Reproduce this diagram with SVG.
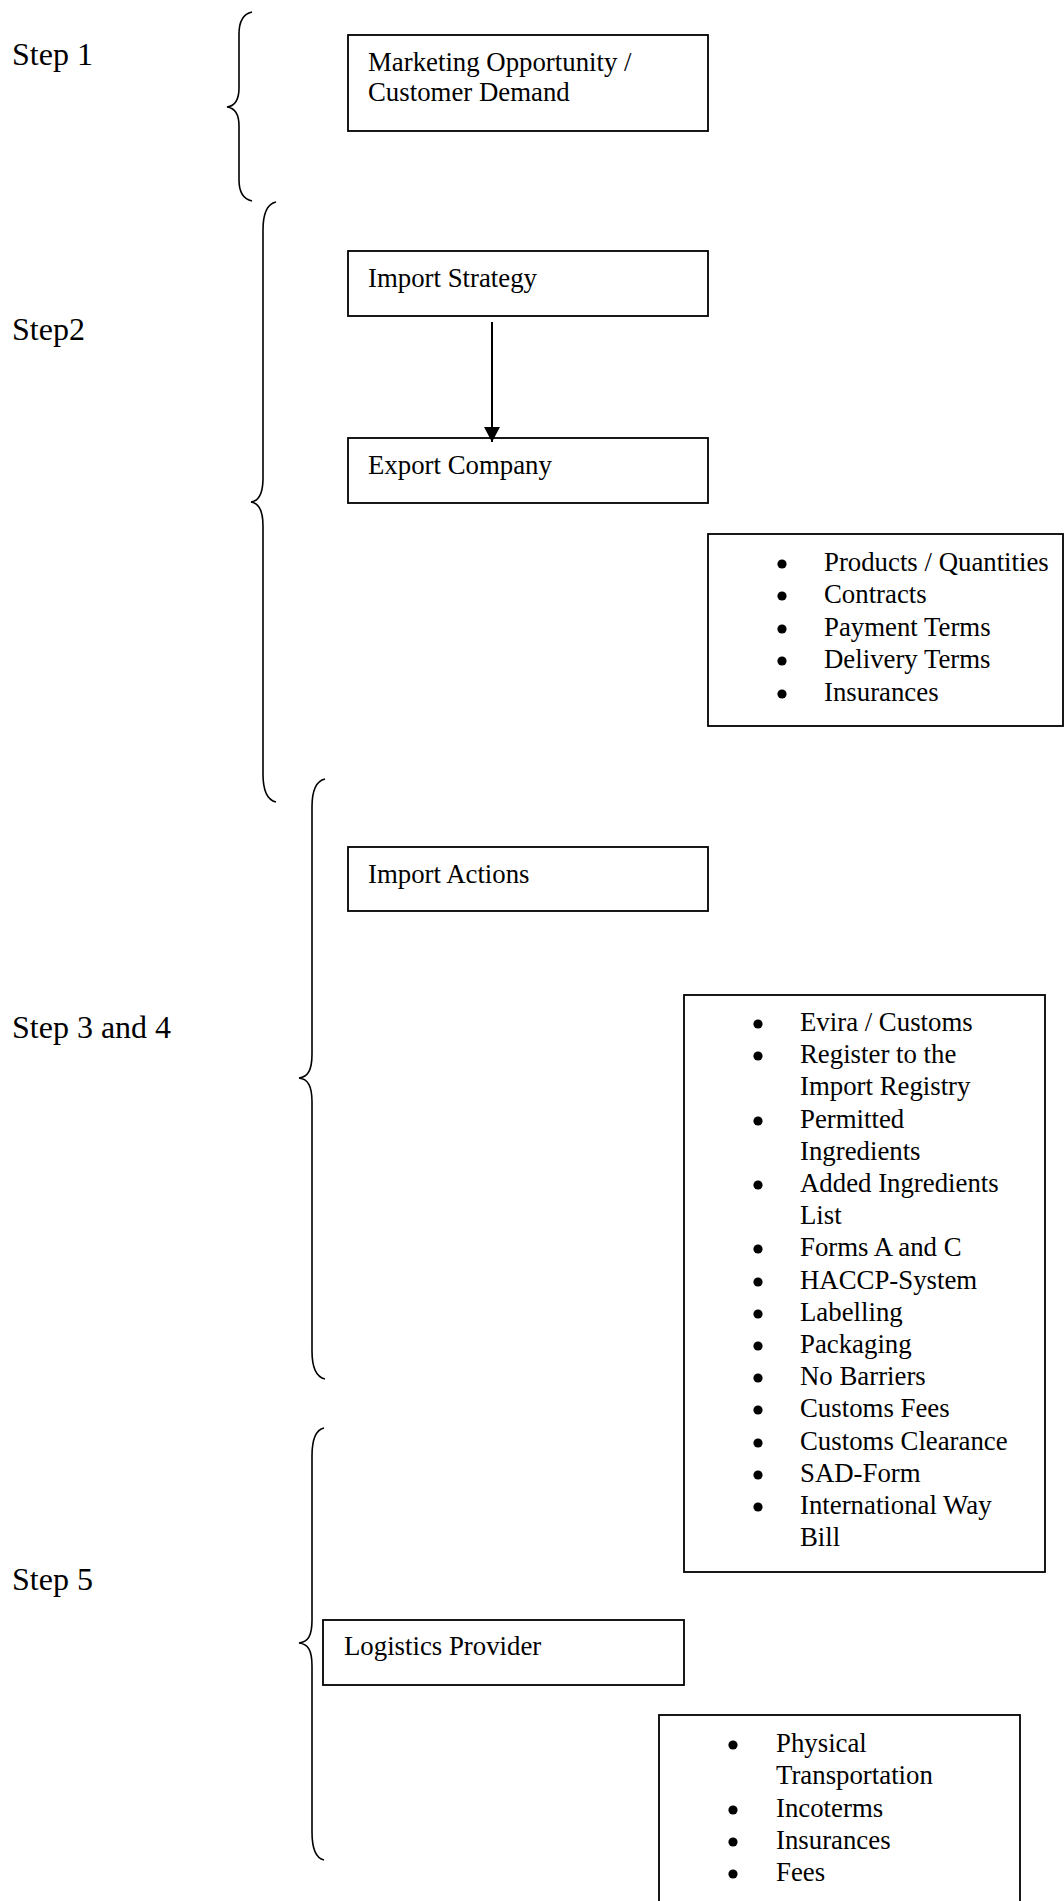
<svg xmlns="http://www.w3.org/2000/svg" width="1064" height="1901" viewBox="0 0 1064 1901">
<style>
  .bg{fill:#fff}
  .box{fill:#fff;stroke:#000;stroke-width:1.8}
  .brace{fill:none;stroke:#000;stroke-width:1.6}
  .step{font-family:"Liberation Serif","Times New Roman",serif;font-size:32px;fill:#000}
  .t{font-family:"Liberation Serif","Times New Roman",serif;font-size:26.8px;fill:#000}
  .bul{fill:#000}
  .conn{stroke:#000;stroke-width:2;fill:none}
</style>
<defs>
  <marker id="ah" markerWidth="16" markerHeight="16" refX="15" refY="8" orient="auto" markerUnits="userSpaceOnUse">
    <path d="M0,0 L15,8 L0,16 Z" fill="#000"/>
  </marker>
</defs>
<rect class="bg" x="0" y="0" width="1064" height="1901"/>

<g id="labels">
  <text class="step" x="12" y="65">Step 1</text>
  <text class="step" x="12" y="340">Step2</text>
  <text class="step" x="12" y="1038">Step 3 and 4</text>
  <text class="step" x="12" y="1590">Step 5</text>
</g>

<g id="braces">
  <path class="brace" d="M252,12 C243,14 239,22 239,34 L239,88 C239,100 235,106 227,107 C235,108 239,114 239,126 L239,180 C239,192 243,199 252,201"/>
  <path class="brace" d="M276,202 C267,204 263,214 263,230 L263,478 C263,494 259,501 251,502 C259,503 263,510 263,526 L263,774 C263,790 267,800 276,802"/>
  <path class="brace" d="M325,779 C316,781 312,791 312,807 L312,1054 C312,1070 308,1077 299,1078 C308,1079 312,1086 312,1102 L312,1351 C312,1367 316,1377 325,1379"/>
  <path class="brace" d="M324,1428 C315,1430 312,1440 312,1456 L312,1620 C312,1636 308,1642 299,1643 C308,1644 312,1650 312,1666 L312,1832 C312,1848 315,1858 324,1860"/>
</g>

<g id="node-marketing">
  <rect class="box" x="348" y="35" width="360" height="96"/>
  <text class="t" x="368" y="71">Marketing Opportunity /</text>
  <text class="t" x="368" y="101">Customer Demand</text>
</g>

<g id="node-import-strategy">
  <rect class="box" x="348" y="251" width="360" height="65"/>
  <text class="t" x="368" y="287">Import Strategy</text>
</g>

<g id="node-export-company">
  <rect class="box" x="348" y="438" width="360" height="65"/>
  <text class="t" x="368" y="474">Export Company</text>
</g>

<g id="node-export-details">
  <rect class="box" x="708" y="534" width="355" height="192"/>
  <g class="bul">
    <circle cx="782" cy="564" r="4.6"/>
    <circle cx="782" cy="596" r="4.6"/>
    <circle cx="782" cy="629" r="4.6"/>
    <circle cx="782" cy="661" r="4.6"/>
    <circle cx="782" cy="694" r="4.6"/>
  </g>
  <g class="t">
    <text x="824" y="571">Products / Quantities</text>
    <text x="824" y="603">Contracts</text>
    <text x="824" y="636">Payment Terms</text>
    <text x="824" y="668">Delivery Terms</text>
    <text x="824" y="701">Insurances</text>
  </g>
</g>

<g id="node-import-actions">
  <rect class="box" x="348" y="847" width="360" height="64"/>
  <text class="t" x="368" y="883">Import Actions</text>
</g>

<g id="node-import-details">
  <rect class="box" x="684" y="995" width="361" height="577"/>
  <g class="bul">
    <circle cx="758" cy="1024" r="4.6"/>
    <circle cx="758" cy="1056" r="4.6"/>
    <circle cx="758" cy="1121" r="4.6"/>
    <circle cx="758" cy="1185" r="4.6"/>
    <circle cx="758" cy="1249" r="4.6"/>
    <circle cx="758" cy="1282" r="4.6"/>
    <circle cx="758" cy="1314" r="4.6"/>
    <circle cx="758" cy="1346" r="4.6"/>
    <circle cx="758" cy="1378" r="4.6"/>
    <circle cx="758" cy="1410" r="4.6"/>
    <circle cx="758" cy="1443" r="4.6"/>
    <circle cx="758" cy="1475" r="4.6"/>
    <circle cx="758" cy="1507" r="4.6"/>
  </g>
  <g class="t">
    <text x="800" y="1031">Evira / Customs</text>
    <text x="800" y="1063">Register to the</text>
    <text x="800" y="1095">Import Registry</text>
    <text x="800" y="1128">Permitted</text>
    <text x="800" y="1160">Ingredients</text>
    <text x="800" y="1192">Added Ingredients</text>
    <text x="800" y="1224">List</text>
    <text x="800" y="1256">Forms A and C</text>
    <text x="800" y="1289">HACCP-System</text>
    <text x="800" y="1321">Labelling</text>
    <text x="800" y="1353">Packaging</text>
    <text x="800" y="1385">No Barriers</text>
    <text x="800" y="1417">Customs Fees</text>
    <text x="800" y="1450">Customs Clearance</text>
    <text x="800" y="1482">SAD-Form</text>
    <text x="800" y="1514">International Way</text>
    <text x="800" y="1546">Bill</text>
  </g>
</g>

<g id="node-logistics">
  <rect class="box" x="323" y="1620" width="361" height="65"/>
  <text class="t" x="344" y="1655">Logistics Provider</text>
</g>

<g id="node-logistics-details">
  <rect class="box" x="659" y="1715" width="361" height="200"/>
  <g class="bul">
    <circle cx="733" cy="1745" r="4.6"/>
    <circle cx="733" cy="1810" r="4.6"/>
    <circle cx="733" cy="1842" r="4.6"/>
    <circle cx="733" cy="1874" r="4.6"/>
  </g>
  <g class="t">
    <text x="776" y="1752">Physical</text>
    <text x="776" y="1784">Transportation</text>
    <text x="776" y="1817">Incoterms</text>
    <text x="776" y="1849">Insurances</text>
    <text x="776" y="1881">Fees</text>
  </g>
</g>

<g id="connectors">
  <line class="conn" x1="492" y1="322" x2="492" y2="442" marker-end="url(#ah)"/>
</g>
</svg>
